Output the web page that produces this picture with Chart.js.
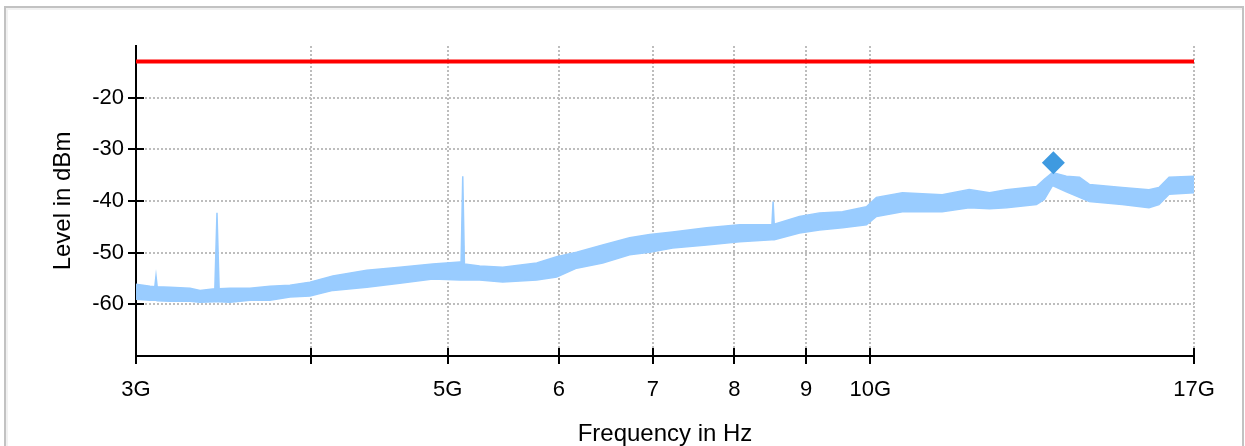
<!DOCTYPE html>
<html lang="en">
<head>
  <meta charset="UTF-8">
  <title>Level vs Frequency</title>
  <script src="https://cdn.jsdelivr.net/npm/chart.js"></script>
  <style>
    body { margin: 0; background: #fff; }
    #frame {
      position: absolute; left: 4px; top: 6px; width: 1236px; height: 460px;
      border: 2px solid #c2c2c2; box-shadow: inset 2px 2px 0 #f1f1f1;
    }
    #levelChart { position: absolute; left: 0; top: 0; }
  </style>
</head>
<body>
  <div id="frame"></div>
  <canvas id="levelChart" width="1245" height="446"></canvas>

  <script>
    // trace envelope (GHz, dBm)
    const freqGHz = [3.000, 3.070, 3.094, 3.100, 3.106, 3.172, 3.278, 3.332, 3.414, 3.426, 3.438,
      3.500, 3.616, 3.737, 3.861, 3.990, 4.143, 4.380, 4.623, 4.880, 5.101, 5.112, 5.126, 5.140,
      5.270, 5.473, 5.787, 5.979, 6.178, 6.448, 6.739, 6.964, 7.231, 7.645, 8.070, 8.510, 8.526,
      8.542, 8.903, 9.200, 9.553, 9.936, 10.10, 10.54, 11.25, 11.76, 12.16, 12.50, 13.13, 13.30,
      13.48, 13.79, 14.09, 14.32, 15.11, 15.79, 16.05, 16.32, 17.00];
    const levelHigh = [-56.1, -56.5, -56.6, -54.5, -56.6, -56.7, -56.9, -57.3, -57.0, -42.3, -57.0,
      -56.9, -56.9, -56.5, -56.3, -55.7, -54.5, -53.4, -52.8, -52.2, -51.8, -52.0, -35.2, -52.2,
      -52.6, -52.8, -52.0, -50.8, -49.9, -48.5, -47.1, -46.5, -46.0, -45.2, -44.6, -44.6, -40.1,
      -44.5, -43.0, -42.3, -42.1, -41.1, -39.3, -38.4, -38.8, -37.8, -38.4, -37.8, -37.2, -35.8,
      -34.5, -35.2, -35.4, -36.8, -37.4, -37.8, -37.4, -35.4, -35.2];
    const levelLow = [-59.0, -59.2, -59.2, -59.2, -59.3, -59.4, -59.4, -59.6, -59.5, -59.5, -59.5,
      -59.6, -59.2, -59.2, -58.6, -58.4, -57.3, -56.7, -55.9, -55.1, -55.3, -55.3, -55.3, -55.3,
      -55.3, -55.7, -55.3, -54.7, -53.0, -52.0, -50.4, -49.9, -49.1, -48.5, -47.9, -47.5, -47.5,
      -47.5, -46.2, -45.6, -45.2, -44.6, -43.0, -42.1, -42.1, -41.3, -41.5, -41.3, -40.7, -39.7,
      -37.0, -38.2, -39.3, -40.1, -40.7, -41.3, -40.7, -38.7, -38.4];

    const limitFreqGHz = [3, 17];
    const limitLevel = [-13, -13];

    const markerFreqGHz = [13.5];
    const markerLevel = [-32.6];

    const xTickValues = [3, 4, 5, 6, 7, 8, 9, 10, 17];
    const xTickLabels = ['3G', '', '5G', '6', '7', '8', '9', '10G', '17G'];
    const yMin = -70, yMax = -10;

    const pts = (fs, vs) => fs.map((f, i) => ({ x: f * 1e9, y: vs[i] }));
    const gridGray = '#bdbdbd';
    const font = { family: "'Liberation Sans', Arial, sans-serif", size: 22 };

    // tick marks that cross the axis lines
    const crossTicks = {
      id: 'crossTicks',
      beforeDatasetsDraw(chart) {
        const ctx = chart.ctx;
        const x = chart.scales.x, y = chart.scales.y;
        ctx.save();
        ctx.strokeStyle = '#000';
        ctx.lineWidth = 2;
        ctx.setLineDash([]);
        ctx.beginPath();
        x.ticks.forEach(t => {
          const px = Math.round(x.getPixelForValue(t.value));
          ctx.moveTo(px, y.bottom - 8);
          ctx.lineTo(px, y.bottom + 8);
        });
        y.ticks.forEach(t => {
          if (t.value === yMin || t.value === yMax) return;
          const py = Math.round(y.getPixelForValue(t.value));
          ctx.moveTo(x.left - 8, py);
          ctx.lineTo(x.left + 8, py);
        });
        ctx.stroke();
        ctx.restore();
      }
    };

    new Chart(document.getElementById('levelChart'), {
      type: 'line',
      data: {
        datasets: [
          {
            data: pts(freqGHz, levelHigh),
            borderColor: '#99ccff', borderWidth: 1.5,
            pointRadius: 0, fill: false, order: 2
          },
          {
            data: pts(freqGHz, levelLow),
            borderColor: '#99ccff', borderWidth: 1.5, backgroundColor: '#99ccff',
            pointRadius: 0, fill: '-1', order: 3
          },
          {
            data: pts(limitFreqGHz, limitLevel),
            borderColor: '#ff0000', borderWidth: 4,
            pointRadius: 0, fill: false, order: 1
          },
          {
            data: pts(markerFreqGHz, markerLevel),
            showLine: false, pointStyle: 'rectRot', pointRadius: 11.5,
            backgroundColor: '#3f9ae0', borderColor: '#3f9ae0', borderWidth: 0, order: 0
          }
        ]
      },
      options: {
        responsive: false,
        animation: false,
        layout: { padding: { top: 46, right: 51, left: 0, bottom: 0 } },
        plugins: { legend: { display: false }, tooltip: { enabled: false } },
        scales: {
          x: {
            type: 'logarithmic',
            min: 3e9, max: 17e9,
            afterBuildTicks: s => { s.ticks = xTickValues.map(v => ({ value: v * 1e9 })); },
            afterFit: s => { s.height = 90; },
            ticks: {
              autoSkip: false, maxRotation: 0, padding: 21,
              color: '#000', font: font,
              callback: (v, i) => xTickLabels[i]
            },
            grid: {
              drawTicks: false, lineWidth: 2,
              color: c => (c.tick && c.tick.value === 3e9) ? 'transparent' : gridGray
            },
            border: { color: '#000', width: 2, dash: [2, 2] },
            title: {
              display: true, text: 'Frequency in Hz', color: '#000',
              font: { family: font.family, size: 24, lineHeight: 1 },
              padding: { top: 0, bottom: 0 }
            }
          },
          y: {
            min: yMin, max: yMax,
            afterFit: s => { s.width = 136; },
            ticks: {
              stepSize: 5, padding: 12, color: '#000', font: font,
              callback: v => (v % 10 === 0 && v > yMin && v < yMax) ? String(v) : ''
            },
            grid: {
              drawTicks: false, lineWidth: 2,
              color: c => (c.tick && (c.tick.value === yMin || c.tick.value === yMax)) ? 'transparent' : gridGray
            },
            border: { color: '#000', width: 2, dash: [2, 2] },
            title: {
              display: true, text: 'Level in dBm', color: '#000',
              font: { family: font.family, size: 24 },
              padding: { top: 49, bottom: 0 }
            }
          }
        }
      },
      plugins: [crossTicks]
    });
  </script>
</body>
</html>
